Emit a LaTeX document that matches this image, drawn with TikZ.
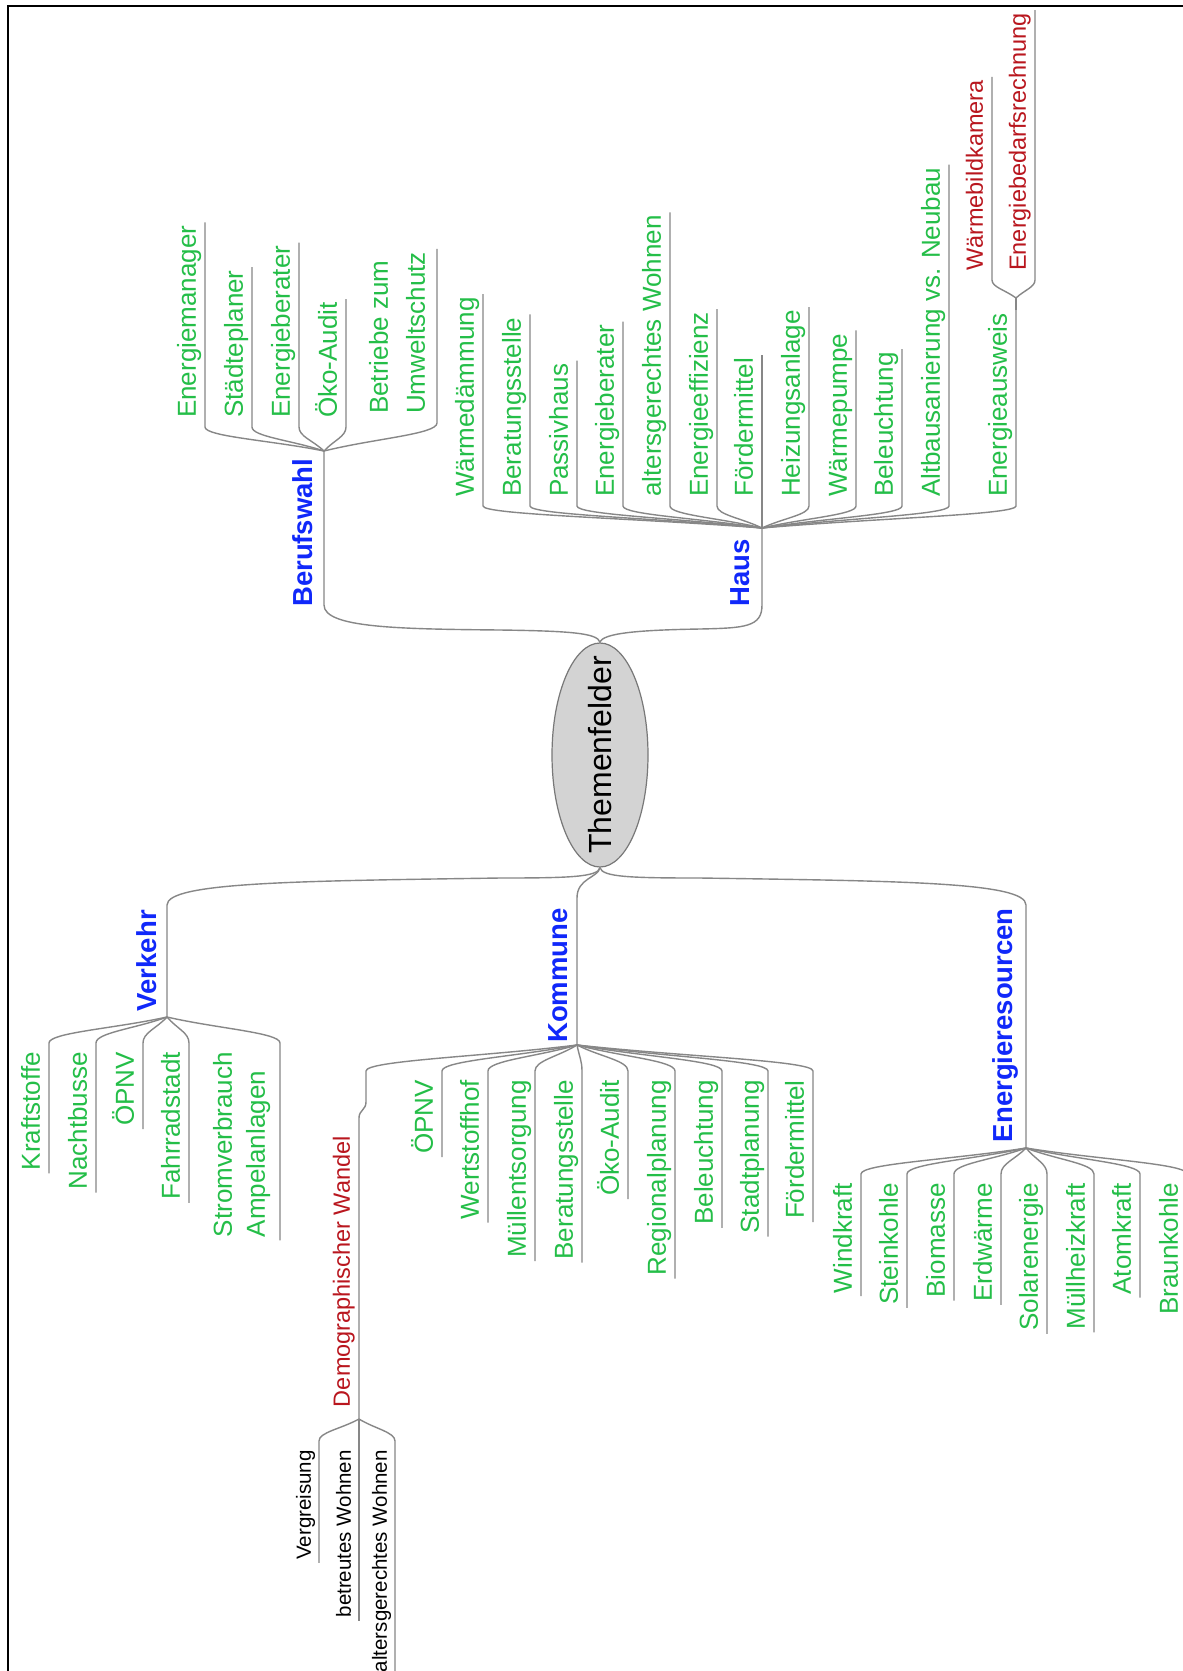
\documentclass[tikz,border=0pt]{standalone}
\usepackage{fontspec}
\setmainfont{Liberation Sans}
\usetikzlibrary{calc,shapes.geometric}
\definecolor{leafgreen}{RGB}{36,190,72}
\definecolor{topicblue}{RGB}{16,40,250}
\definecolor{subred}{RGB}{185,22,30}
\definecolor{linegray}{RGB}{135,135,135}
\definecolor{rootgray}{RGB}{211,211,211}
\definecolor{rootline}{RGB}{120,120,120}
\newcommand\leafup[2]{%
  \coordinate (#1C) at ($(#1.south west)+(0,9)$);
  \coordinate (#1E) at ($(#1.south east)+(0,-3)$);
  \draw[conn] (#2) .. controls ($(#2)!0.45!(#1C)$) and ($(#2 -| #1C)!0.6!(#1C)$) .. (#1C) -- (#1E);}
\newcommand\leafdown[2]{%
  \coordinate (#1C) at ($(#1.south east)+(0,-9)$);
  \coordinate (#1E) at ($(#1.south west)+(0,3)$);
  \draw[conn] (#2) .. controls ($(#2)!0.45!(#1C)$) and ($(#2 -| #1C)!0.6!(#1C)$) .. (#1C) -- (#1E);}
\tikzset{
  conn/.style={draw=linegray, line width=1.4pt},
  leaf/.style={rotate=90, inner xsep=0pt, inner ysep=9pt, text depth=0pt, text=leafgreen, font=\fontsize{26}{31}\selectfont},
  upleaf/.style={leaf, anchor=south west},
  downleaf/.style={leaf, anchor=south east},
  topic/.style={rotate=90, inner sep=0pt, text depth=0pt, text=topicblue, font=\bfseries\fontsize{27.5}{33}\selectfont},
  redleaf/.style={text=subred, font=\fontsize{23.5}{28}\selectfont},
  smallleaf/.style={text=black, font=\fontsize{20.5}{25}\selectfont},
  rootnode/.style={ellipse, rotate=90, minimum width=224pt, minimum height=96pt, inner xsep=-30pt, inner ysep=0pt, fill=rootgray, draw=rootline, line width=1.2pt, font=\fontsize{32}{38}\selectfont}
}
\begin{document}
\begin{tikzpicture}[x=1pt,y=-1pt]
\useasboundingbox (0,0) rectangle (1183,1671);
\clip (0,0) rectangle (1183,1671);
\fill[white] (0,0) rectangle (1183,1671);
\draw[line width=2.2pt, black] (8,1680) -- (8,6) -- (1190,6);

% root
\node[rootnode] (root) at (600,755) {Themenfelder};

% Berufswahl
\coordinate (bb) at (324,451);
\node[topic, anchor=south west] (berufswahl) at (313,607) {Berufswahl};
\node[upleaf] (bw1) at (205,418) {Energiemanager};
\node[upleaf] (bw2) at (252,418) {Städteplaner};
\node[upleaf] (bw3) at (299,418) {Energieberater};
\node[upleaf] (bw4) at (346,418) {Öko-Audit};
\node[upleaf, inner ysep=12pt, font=\fontsize{26}{37}\selectfont] (bw5) at (437,414) {\vbox{\hbox{Betriebe zum}\hbox{Umweltschutz}}};

% Haus
\coordinate (hb) at (762,528);
\node[topic, anchor=south west] (haus) at (750,607) {Haus};
\node[upleaf] (h1) at (483,497) {Wärmedämmung};
\node[upleaf] (h2) at (530,497) {Beratungsstelle};
\node[upleaf] (h3) at (577,497) {Passivhaus};
\node[upleaf] (h4) at (623,497) {Energieberater};
\node[upleaf] (h5) at (670,497) {altersgerechtes Wohnen};
\node[upleaf] (h6) at (717,497) {Energieeffizienz};
\node[upleaf] (h7) at (762,497) {Fördermittel};
\node[upleaf] (h8) at (809,497) {Heizungsanlage};
\node[upleaf] (h9) at (856,497) {Wärmepumpe};
\node[upleaf] (h10) at (902,497) {Beleuchtung};
\node[upleaf] (h11) at (949,497) {Altbausanierung vs. Neubau};
\node[upleaf] (h12) at (1016,497) {Energieausweis};
\coordinate (ab) at (1016,298);
\node[upleaf, redleaf] (a1) at (992,271) {Wärmebildkamera};
\node[upleaf, redleaf] (a2) at (1035,271) {Energiebedarfsrechnung};

% Verkehr
\coordinate (vb) at (167,1017);
\node[topic, anchor=south east] (verkehr) at (157,910) {Verkehr};
\node[downleaf] (v1) at (49,1052) {Kraftstoffe};
\node[downleaf] (v2) at (96,1052) {Nachtbusse};
\node[downleaf] (v3) at (143,1052) {ÖPNV};
\node[downleaf] (v4) at (189,1052) {Fahrradstadt};
\node[downleaf, inner ysep=15pt, font=\fontsize{26}{33}\selectfont] (v5) at (280,1052) {\vbox{\hbox{Stromverbrauch}\hbox{Ampelanlagen}}};

% Kommune
\coordinate (kb) at (577,1045);
\node[topic, anchor=south east] (kommune) at (568,908) {Kommune};
\node[downleaf] (k1) at (442,1080) {ÖPNV};
\node[downleaf] (k2) at (488,1080) {Wertstoffhof};
\node[downleaf] (k3) at (535,1080) {Müllentsorgung};
\node[downleaf] (k4) at (582,1080) {Beratungsstelle};
\node[downleaf] (k5) at (628,1080) {Öko-Audit};
\node[downleaf] (k6) at (675,1080) {Regionalplanung};
\node[downleaf] (k7) at (722,1080) {Beleuchtung};
\node[downleaf] (k8) at (768,1080) {Stadtplanung};
\node[downleaf] (k9) at (813,1080) {Fördermittel};
\coordinate (db) at (359,1419);
\coordinate (dmc) at (366,1071);
\node[downleaf, redleaf] (dem) at (359,1136) {Demographischer Wandel};
\node[downleaf, smallleaf, inner ysep=8pt] (d1) at (319,1450) {Vergreisung};
\node[downleaf, smallleaf, inner ysep=8pt] (d2) at (359,1450) {betreutes Wohnen};
\node[downleaf, smallleaf, inner ysep=8pt] (d3) at (395,1450) {altersgerechtes Wohnen};

% Energieresourcen
\coordinate (eb) at (1026,1148);
\node[topic, anchor=south east] (energie) at (1013,908) {Energieresourcen};
\node[downleaf] (e1) at (861,1183) {Windkraft};
\node[downleaf] (e2) at (907,1183) {Steinkohle};
\node[downleaf] (e3) at (954,1183) {Biomasse};
\node[downleaf] (e4) at (1001,1183) {Erdwärme};
\node[downleaf] (e5) at (1047,1183) {Solarenergie};
\node[downleaf] (e6) at (1094,1183) {Müllheizkraft};
\node[downleaf] (e7) at (1140,1183) {Atomkraft};
\node[downleaf] (e8) at (1187,1183) {Braunkohle};

% root connectors
\draw[conn] (root.east) .. controls (598,633) and (570,631) .. (500,630) .. controls (400,629) and (324,628) .. (324,605) -- (bb);
\draw[conn] (root.east) .. controls (602,633) and (640,630) .. (700,629) .. controls (745,628) and (762,627) .. (762,605) -- (hb);
\draw[conn] (root.west) .. controls (598,877) and (570,878) .. (500,878) .. controls (300,881) and (167,882) .. (167,905) -- (vb);
\draw[conn] (root.west) .. controls (598,878) and (577,878) .. (577,898) -- (kb);
\draw[conn] (root.west) .. controls (602,877) and (630,878) .. (700,878) .. controls (900,881) and (1026,882) .. (1026,905) -- (eb);

% Berufswahl leaves
\leafup{bw1}{bb}
\leafup{bw2}{bb}
\leafup{bw3}{bb}
\leafup{bw4}{bb}
\leafup{bw5}{bb}

% Haus leaves
\leafup{h1}{hb}
\leafup{h2}{hb}
\leafup{h3}{hb}
\leafup{h4}{hb}
\leafup{h5}{hb}
\leafup{h6}{hb}
\leafup{h7}{hb}
\leafup{h8}{hb}
\leafup{h9}{hb}
\leafup{h10}{hb}
\leafup{h11}{hb}
\leafup{h12}{hb}
\draw[conn] (h12E) -- (ab);
\leafup{a1}{ab}
\leafup{a2}{ab}

% Verkehr leaves
\leafdown{v1}{vb}
\leafdown{v2}{vb}
\leafdown{v3}{vb}
\leafdown{v4}{vb}
\leafdown{v5}{vb}

% Kommune leaves
\draw[conn] (kb) .. controls ($(kb)!0.45!(dmc)$) and ($(kb -| dmc)!0.6!(dmc)$) .. (dmc) -- (366,1102) .. controls (366,1110) and (359,1110) .. (359,1118) -- (db);
\leafdown{k1}{kb}
\leafdown{k2}{kb}
\leafdown{k3}{kb}
\leafdown{k4}{kb}
\leafdown{k5}{kb}
\leafdown{k6}{kb}
\leafdown{k7}{kb}
\leafdown{k8}{kb}
\leafdown{k9}{kb}
\leafdown{d1}{db}
\leafdown{d2}{db}
\leafdown{d3}{db}

% Energieresourcen leaves
\leafdown{e1}{eb}
\leafdown{e2}{eb}
\leafdown{e3}{eb}
\leafdown{e4}{eb}
\leafdown{e5}{eb}
\leafdown{e6}{eb}
\leafdown{e7}{eb}
\leafdown{e8}{eb}
\end{tikzpicture}
\end{document}
